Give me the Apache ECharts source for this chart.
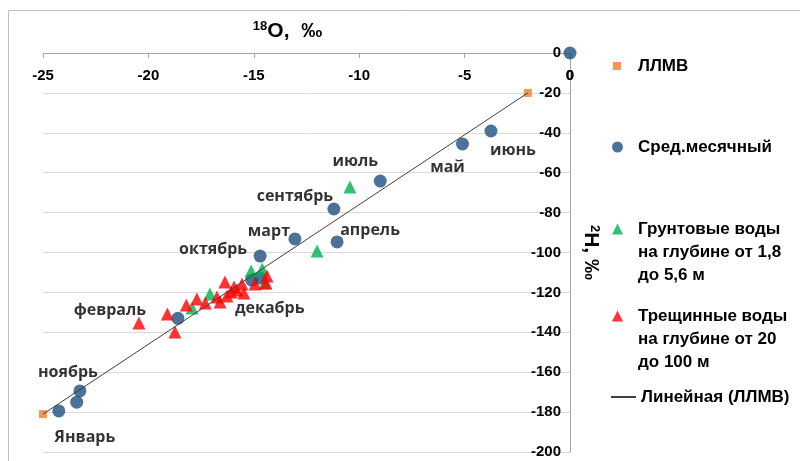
<!DOCTYPE html>
<html>
<head>
<meta charset="utf-8">
<script src="https://cdn.jsdelivr.net/npm/echarts@6/dist/echarts.min.js"></script>
<style>html,body{margin:0;padding:0;background:#fff}#c{width:800px;height:461px}</style>
</head>
<body>
<div id="c"></div>
<script>
// ---- data (δ18O, δ2H in ‰) ----
const llmvX = [-25, -2];
const llmvY = [-181, -20];

const monthX = [0, -3.75, -5.1, -9.0, -11.2, -11.05, -13.05, -14.7, -15.1, -14.7, -18.6, -23.25, -23.4, -24.25];
const monthY = [0, -39.1, -45.6, -64.2, -78.2, -94.7, -93.2, -101.8, -113.8, -112.8, -133, -169.4, -175, -179.4];
const monthNames = ['', 'июнь', 'май', 'июль', 'сентябрь', 'апрель', 'март', 'октябрь', 'декабрь', '', 'февраль', 'ноябрь', '', 'Январь'];

const groundX = [-10.44, -12.0, -15.13, -14.6, -14.47, -17.08, -17.93];
const groundY = [-67.2, -99.2, -109.3, -108.3, -115.3, -120.8, -127.8];

const fissureX = [-20.45, -19.1, -18.74, -18.2, -17.7, -17.3, -16.75, -16.6, -16.37, -16.27, -16.08, -15.8, -15.56, -15.47, -15.94, -14.94, -14.37, -14.42];
const fissureY = [-135.3, -130.8, -139.8, -126.3, -123.3, -125.3, -122.3, -124.8, -114.8, -121.8, -119.8, -118.8, -115.8, -120.3, -117.3, -115.8, -111.8, -115.3];

const xTicks = { min: -25, max: 0, interval: 5 };
const yTicks = { min: -200, max: 0, interval: 20 };

// label offsets (style only)
const labelOffsets = [[0,0],[22,19],[-15,23],[-25,-20],[-39,-13],[33,-11],[-26,-7],[-47,-7],[18,28],[0,0],[-68,-8],[-12,-19],[0,0],[26,27]];

const names = {
  llmv: 'ЛЛМВ',
  month: 'Сред.месячный',
  ground: 'Грунтовые воды на глубине от 1,8 до 5,6 м',
  fissure: 'Трещинные воды на глубине от 20 до 100 м',
  line: 'Линейная (ЛЛМВ)'
};
const legendText = {};
legendText[names.ground] = '\n\nГрунтовые воды\nна глубине от 1,8\nдо 5,6 м';
legendText[names.fissure] = '\n\nТрещинные воды\nна глубине от 20\nдо 100 м';

const zip = (xs, ys) => xs.map((x, i) => [x, ys[i]]);
const FONT = '"Liberation Sans", Arial, sans-serif';
const LFONT = '"Open Sans", "Liberation Sans", sans-serif';

const monthData = monthX.map((x, i) => ({
  value: [x, monthY[i]],
  name: monthNames[i],
  label: { show: monthNames[i] !== '', offset: labelOffsets[i] }
}));

const chart = echarts.init(document.getElementById('c'), null, { renderer: 'canvas' });

function legendFor(name, top, left, w, h, pad) {
  return {
    data: [name], left: left, top: top, padding: 0, orient: 'vertical',
    itemWidth: w, itemHeight: h, selectedMode: false,
    formatter: n => legendText[n] || n,
    textStyle: { fontFamily: FONT, fontWeight: 'bold', fontSize: 17, color: '#000', lineHeight: 23, padding: [0, 0, 0, pad] }
  };
}

const border = { id: 'border', type: 'rect', shape: { x: 8.5, y: 10.5, width: 820, height: 470 }, style: { fill: 'none', stroke: '#bfbfbf', lineWidth: 1 }, silent: true };

chart.setOption({
  animation: false,
  backgroundColor: '#fff',
  grid: { left: 43, right: 230, top: 53, bottom: 9, containLabel: false },
  graphic: [border],
  legend: [
    legendFor(names.llmv, 54.5, 613, 8, 8, 12),
    legendFor(names.month, 135.5, 612, 11, 11, 10),
    legendFor(names.ground, 171.5, 612, 11, 11, 10),
    legendFor(names.fissure, 258.5, 612, 11, 11, 10),
    legendFor(names.line, 385.5, 610, 25, 2, 0)
  ],
  xAxis: {
    type: 'value', position: 'top', min: xTicks.min, max: xTicks.max, interval: xTicks.interval,
    name: '{s|18}{m|O,  ‰}', nameLocation: 'middle', nameGap: 11,
    nameTextStyle: { padding: [0, 38, 0, 0], rich: {
      s: { fontFamily: FONT, fontWeight: 'bold', fontSize: 13, color: '#000', verticalAlign: 'top', lineHeight: 22, padding: [0, 0, 8, 0] },
      m: { fontFamily: FONT, fontWeight: 'bold', fontSize: 21, color: '#000', lineHeight: 22 }
    } },
    axisLine: { show: true, onZero: false, lineStyle: { color: '#a6a6a6', width: 1 } },
    axisTick: { show: true, inside: true, length: 5, lineStyle: { color: '#a6a6a6' } },
    axisLabel: { inside: true, margin: 15, showMinLabel: true, showMaxLabel: true, hideOverlap: false, fontFamily: FONT, fontWeight: 'bold', fontSize: 15, color: '#000' },
    splitLine: { show: false }
  },
  yAxis: {
    type: 'value', position: 'right', min: yTicks.min, max: yTicks.max, interval: yTicks.interval,
    name: '{s|2}{m|H, ‰}', nameLocation: 'middle', nameGap: 10, nameRotate: -90,
    nameTextStyle: { rich: {
      s: { fontFamily: FONT, fontWeight: 'bold', fontSize: 13, color: '#000', lineHeight: 22, padding: [0, 0, 8, 0] },
      m: { fontFamily: FONT, fontWeight: 'bold', fontSize: 21, color: '#000', lineHeight: 22 }
    } },
    axisLine: { show: true, onZero: false, lineStyle: { color: '#a6a6a6', width: 1 } },
    axisTick: { show: false },
    axisLabel: { inside: true, margin: 9, showMinLabel: true, showMaxLabel: true, hideOverlap: false, fontFamily: FONT, fontWeight: 'bold', fontSize: 15, color: '#000' },
    splitLine: { show: true, lineStyle: { color: '#d9d9d9', width: 1 } }
  },
  series: [
    { name: names.llmv, type: 'scatter', data: zip(llmvX, llmvY), symbol: 'rect', symbolSize: 8, itemStyle: { color: '#ED7D31' }, z: 2 },
    { name: names.month, type: 'scatter', data: monthData, symbol: 'circle', symbolSize: 13, itemStyle: { color: '#1E4F7E' }, z: 3,
      label: { position: 'inside', formatter: p => p.name, fontFamily: LFONT, fontWeight: 'bold', fontSize: 16, color: '#000' } },
    { name: names.ground, type: 'scatter', data: zip(groundX, groundY), symbol: 'triangle', symbolSize: 13, itemStyle: { color: '#00B050' }, z: 4 },
    { name: names.fissure, type: 'scatter', data: zip(fissureX, fissureY), symbol: 'triangle', symbolSize: 13, itemStyle: { color: '#FF0000' }, z: 5 },
    { name: names.line, type: 'line', data: zip(llmvX, llmvY), showSymbol: false, symbol: 'none', lineStyle: { color: '#404040', width: 1 }, itemStyle: { color: '#404040' }, z: 6 }
  ]
});

// x-axis "0" tick label (ECharts hides it at the axis crossing); positioned through the axis scale
const origin = chart.convertToPixel({ gridIndex: 0 }, [xTicks.max, yTicks.max]);
chart.setOption({
  graphic: [border, {
    id: 'zeroLabel', type: 'text', x: origin[0], y: origin[1] + 23, silent: true,
    style: { text: '0', align: 'center', verticalAlign: 'middle', fill: '#000', font: 'bold 15px "Liberation Sans", Arial, sans-serif' }
  }]
});
</script>
</body>
</html>
